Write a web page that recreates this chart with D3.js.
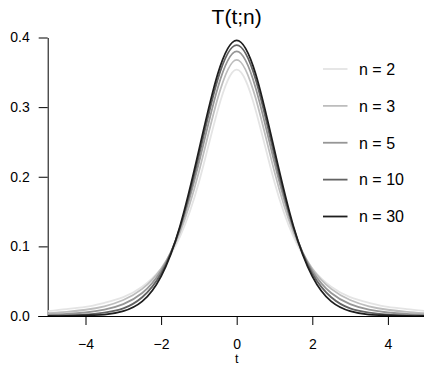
<!DOCTYPE html>
<html>
<head>
<meta charset="utf-8">
<script src="https://cdn.jsdelivr.net/npm/d3@7"></script>
<style>
  body { margin: 0; background: #fff; }
  svg { display: block; font-family: "Liberation Sans", Arial, sans-serif; }
</style>
</head>
<body>
<svg id="chart" width="424" height="366"></svg>
<script>
// t grid and density values
var tValues = [-5, -4.5, -4, -3.5, -3, -2.5, -2, -1.5, -1, -0.5, 0,
               0.5, 1, 1.5, 2, 2.5, 3, 3.5, 4, 4.5, 5];

var dens2  = [0.007, 0.010, 0.013, 0.019, 0.027, 0.042, 0.068, 0.114, 0.192, 0.296, 0.354,
              0.296, 0.192, 0.114, 0.068, 0.042, 0.027, 0.019, 0.013, 0.010, 0.007];
var dens3  = [0.004, 0.006, 0.009, 0.014, 0.023, 0.039, 0.068, 0.120, 0.207, 0.313, 0.368,
              0.313, 0.207, 0.120, 0.068, 0.039, 0.023, 0.014, 0.009, 0.006, 0.004];
var dens5  = [0.002, 0.003, 0.005, 0.009, 0.017, 0.033, 0.065, 0.125, 0.220, 0.328, 0.380,
              0.328, 0.220, 0.125, 0.065, 0.033, 0.017, 0.009, 0.005, 0.003, 0.002];
var dens10 = [0.000, 0.001, 0.002, 0.005, 0.011, 0.027, 0.061, 0.127, 0.230, 0.340, 0.389,
              0.340, 0.230, 0.127, 0.061, 0.027, 0.011, 0.005, 0.002, 0.001, 0.000];
var dens30 = [0.000, 0.000, 0.001, 0.002, 0.007, 0.021, 0.057, 0.129, 0.238, 0.348, 0.396,
              0.348, 0.238, 0.129, 0.057, 0.021, 0.007, 0.002, 0.001, 0.000, 0.000];

var seriesNames = ["n = 2", "n = 3", "n = 5", "n = 10", "n = 30"];
var seriesValues = [dens2, dens3, dens5, dens10, dens30];
var seriesColors = ["#e4e4e4", "#bdbdbd", "#969696", "#636363", "#1e1e1e"];

var xTicks = [-4, -2, 0, 2, 4];
var yTicks = [0.0, 0.1, 0.2, 0.3, 0.4];

var svg = d3.select("#chart");

var x = d3.scaleLinear().domain([-5, 5]).range([47.7, 425.7]);
var y = d3.scaleLinear().domain([0, 0.4]).range([316, 37.5]);

// title
svg.append("text")
  .attr("x", x(0))
  .attr("y", 23.5)
  .attr("text-anchor", "middle")
  .style("font-size", "21px")
  .text("T(t;n)");

// y axis
var yAxis = svg.append("g")
  .attr("transform", "translate(" + x(-5) + ",0)")
  .call(d3.axisLeft(y).tickValues(yTicks).tickFormat(d3.format(".1f"))
        .tickSize(9).tickSizeOuter(0).tickPadding(9));
yAxis.selectAll("text").style("font-size", "14px").attr("fill", "#000");
yAxis.selectAll("line, path").attr("stroke", "#000");

// x axis
var xAxis = svg.append("g")
  .attr("transform", "translate(0," + y(0) + ")")
  .call(d3.axisBottom(x).tickValues(xTicks).tickFormat(d3.format("d"))
        .tickSize(9).tickSizeOuter(0).tickPadding(14));
xAxis.select(".domain").attr("d", "M" + (x(-5) - 9.5) + ",0.5H" + 424);
xAxis.selectAll("text").style("font-size", "14px").attr("fill", "#000");
xAxis.selectAll("line, path").attr("stroke", "#000");

svg.append("text")
  .attr("x", x(0))
  .attr("y", 363)
  .attr("text-anchor", "middle")
  .style("font-size", "12.5px")
  .text("t");

// curves
var line = d3.line()
  .x(function(d, i) { return x(tValues[i]); })
  .y(function(d) { return y(d); })
  .curve(d3.curveNatural);

svg.append("defs").append("clipPath").attr("id", "plotClip")
  .append("rect").attr("x", x(-5)).attr("y", 0).attr("width", 424 - x(-5)).attr("height", y(0));

svg.append("g")
  .attr("clip-path", "url(#plotClip)")
  .selectAll("path")
  .data(seriesValues)
  .enter()
  .append("path")
  .attr("d", line)
  .attr("fill", "none")
  .attr("stroke", function(d, i) { return seriesColors[i]; })
  .attr("stroke-width", 1.8);

// legend
var legend = svg.append("g");
var legendY = d3.scaleLinear().domain([0, 4]).range([69, 216.5]);

legend.selectAll("line")
  .data(seriesNames)
  .enter()
  .append("line")
  .attr("x1", 323)
  .attr("x2", 347.5)
  .attr("y1", function(d, i) { return legendY(i); })
  .attr("y2", function(d, i) { return legendY(i); })
  .attr("stroke", function(d, i) { return seriesColors[i]; })
  .attr("stroke-width", 1.8);

legend.selectAll("text")
  .data(seriesNames)
  .enter()
  .append("text")
  .attr("x", 359)
  .attr("y", function(d, i) { return legendY(i); })
  .attr("dy", "0.36em")
  .style("font-size", "16px")
  .text(function(d) { return d; });
</script>
</body>
</html>
